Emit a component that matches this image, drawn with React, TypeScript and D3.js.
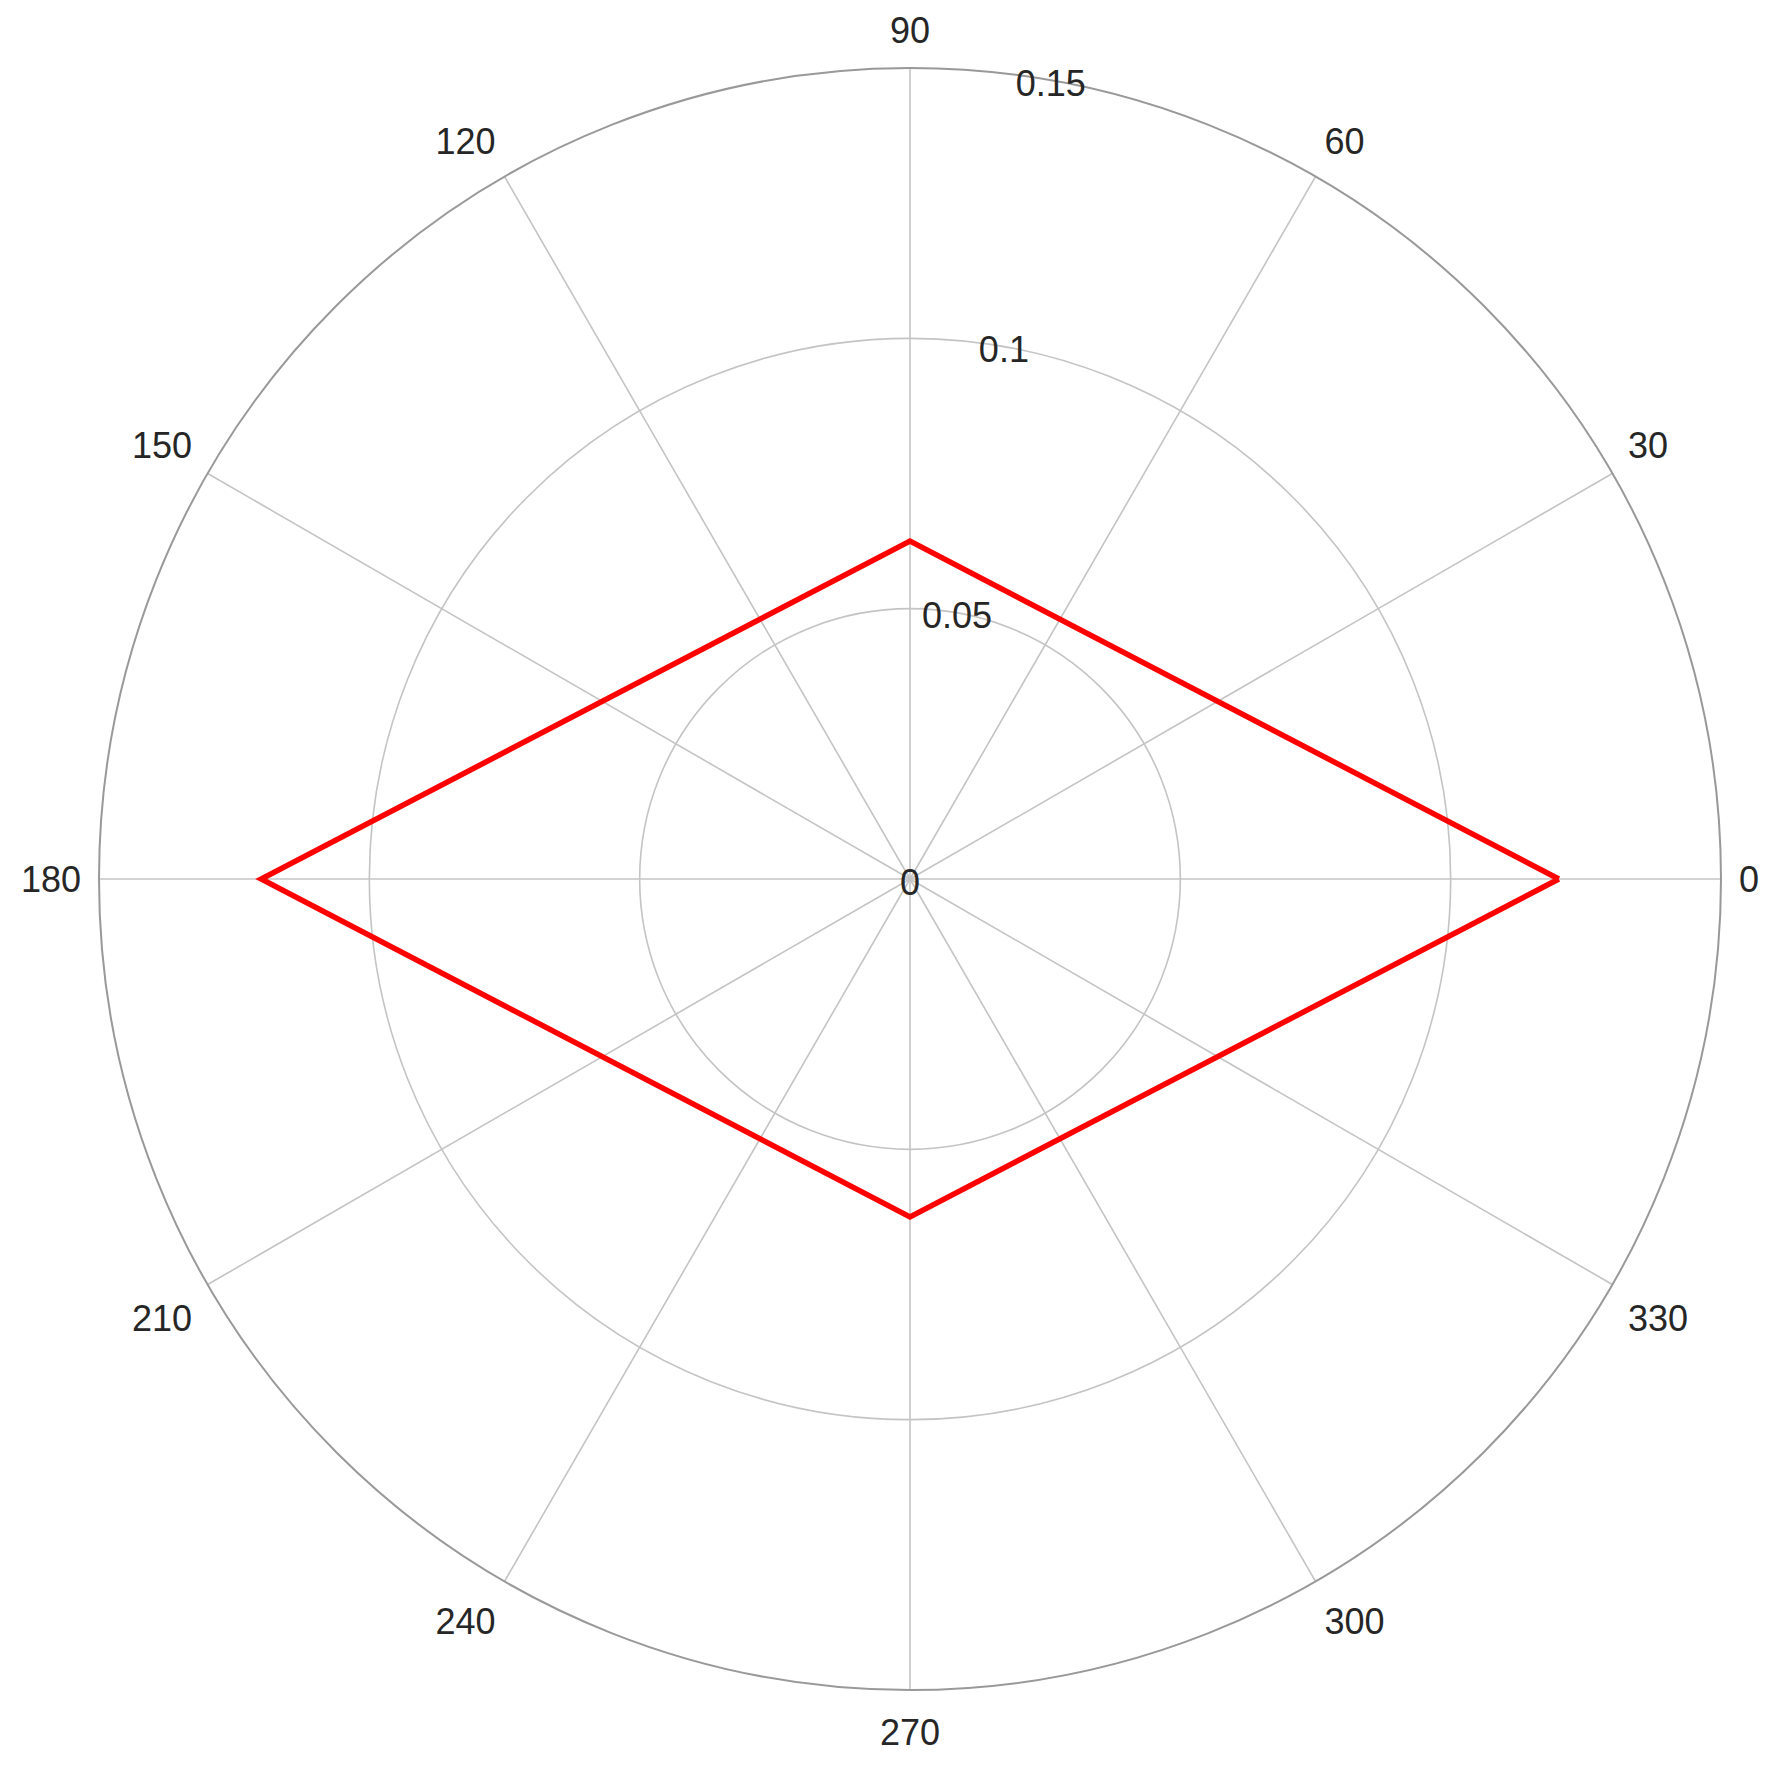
import React from "react";
import * as d3 from "d3";

// data
const thetaDeg = [0, 90, 180, 270, 360];
const rValues = [0.12, 0.0625, 0.12, 0.0625, 0.12];
const thetaTicks = [0, 30, 60, 90, 120, 150, 180, 210, 240, 270, 300, 330];
const rTicks = [0, 0.05, 0.1, 0.15];
const rTickLabels = ["0", "0.05", "0.1", "0.15"];

const W = 1774;
const H = 1774;
const cx = 910;
const cy = 879;
const R = 811;
const fontSize = 36;
const rLabelAngle = 80;
const textColor = "#262626";

const toRad = (deg: number) => (deg * Math.PI) / 180;

export default function App() {
  const r = d3.scaleLinear().domain([0, 0.15]).range([0, R]);

  const line = d3
    .lineRadial<number>()
    .angle((_, i) => toRad(90 - thetaDeg[i]))
    .radius((d) => r(d))
    .curve(d3.curveLinear);

  // theta labels: anchor point just outside the rim, aligned away from center
  const thetaLabel = (deg: number) => {
    const t = toRad(deg);
    const c = Math.cos(t);
    const s = Math.sin(t);
    const dist = R + 18;
    let anchor = "middle";
    if (c > 0.01) anchor = "start";
    else if (c < -0.01) anchor = "end";
    let dy = 0;
    if (s > 0.01) dy = -19.5;
    else if (s < -0.01) dy = 24.5;
    return {
      x: dist * c,
      y: -dist * s + dy,
      anchor,
      txt: String(deg),
    };
  };

  return (
    <div style={{ position: "absolute", left: 0, top: 0 }}>
      <svg width={W} height={H} style={{ display: "block", background: "#fff" }}>
        <g transform={`translate(${cx},${cy})`}>
          {/* spokes */}
          {thetaTicks.map((d) => (
            <line
              key={"s" + d}
              x1={0}
              y1={0}
              x2={R * Math.cos(toRad(d))}
              y2={-R * Math.sin(toRad(d))}
              stroke="#c4c4c4"
              strokeWidth={1.6}
            />
          ))}
          {/* rings */}
          {rTicks.slice(1, -1).map((d) => (
            <circle key={"c" + d} r={r(d)} fill="none" stroke="#c4c4c4" strokeWidth={1.6} />
          ))}
          <circle r={r(0.15)} fill="none" stroke="#999999" strokeWidth={2} />

          {/* data */}
          <path
            d={line(rValues) || ""}
            fill="none"
            stroke="#ff0000"
            strokeWidth={5.5}
            strokeLinejoin="miter"
          />

          {/* r tick labels */}
          {rTicks.map((d, i) => (
            <text
              key={"rl" + d}
              x={r(d) * Math.cos(toRad(rLabelAngle))}
              y={-r(d) * Math.sin(toRad(rLabelAngle)) + 3}
              textAnchor="middle"
              dominantBaseline="central"
              fontFamily="'Liberation Sans', Arial, sans-serif"
              fontSize={fontSize}
              fill={textColor}
            >
              {rTickLabels[i]}
            </text>
          ))}

          {/* theta tick labels */}
          {thetaTicks.map((d) => {
            const p = thetaLabel(d);
            return (
              <text
                key={"tl" + d}
                x={p.x}
                y={p.y}
                textAnchor={p.anchor}
                dominantBaseline="central"
                fontFamily="'Liberation Sans', Arial, sans-serif"
                fontSize={fontSize}
                fill={textColor}
              >
                {p.txt}
              </text>
            );
          })}
        </g>
      </svg>
    </div>
  );
}
